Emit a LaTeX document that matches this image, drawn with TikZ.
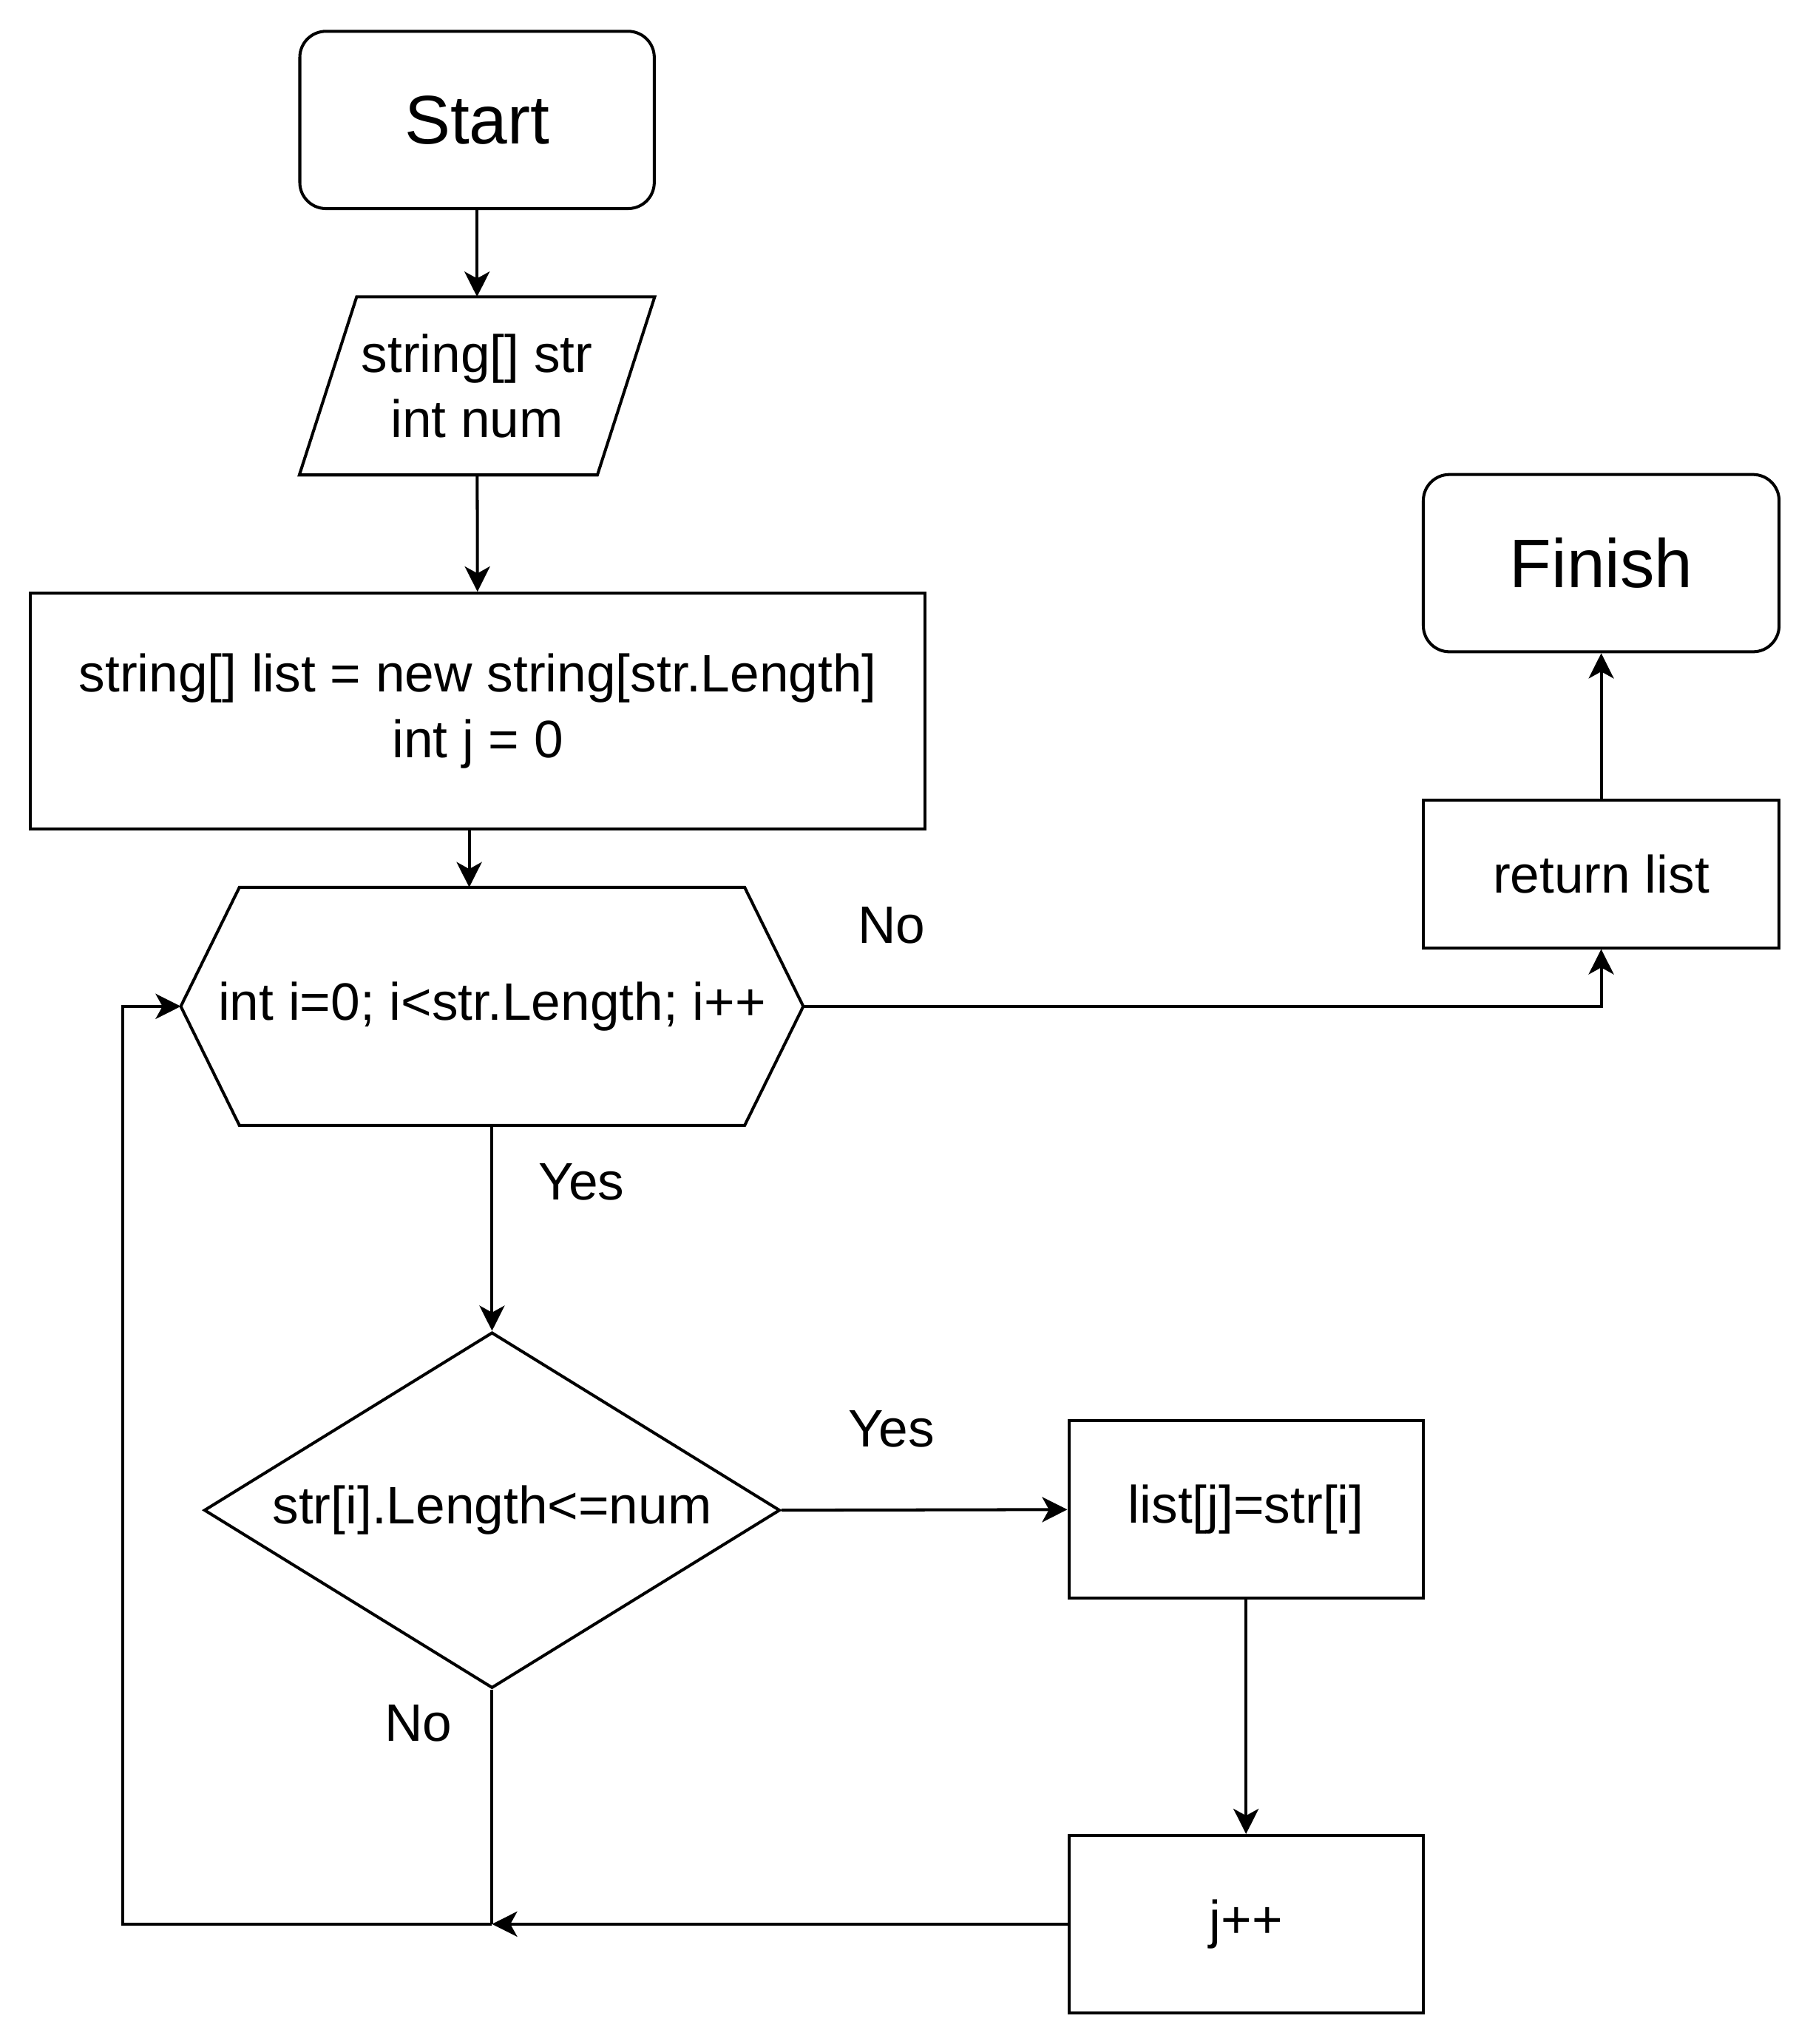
\documentclass[tikz,border=0pt]{standalone}
\usepackage{fontspec}
\setmainfont{Liberation Sans}
\usetikzlibrary{shapes.geometric,arrows.meta}
\begin{document}
\begin{tikzpicture}[x = 0.02cm, y = -0.02cm,
  every node/.style = {font = \fontsize{23}{28.5}\selectfont},
  box/.style = {draw, line width = 1.3pt, minimum width = 5.44cm, minimum height = 2.72cm, align = center, inner sep = 0},
  term/.style = {box, rounded corners = 0.4cm, font = \fontsize{30}{36}\selectfont},
  line/.style = {line width = 1.3pt},
  >={Stealth[length = 11pt, width = 11pt, inset = 3pt]}]
\useasboundingbox (0,0) rectangle (1391,1568);
\node (St) [term] at (366,92) {Start};
\node (In) [minimum width = 5.44cm, minimum height = 2.72cm, align = center, inner sep = 0] at (366,296) {string[] str\\int num};
\draw [line] ([xshift = 0.88cm]In.north west) -- (In.north east) -- ([xshift = -0.88cm]In.south east) -- (In.south west) -- cycle;
\node (Init) [box, minimum width = 13.74cm, minimum height = 3.62cm] at (366.5,545.5) {string[] list = new string[str.Length]\\int j = 0};
\node (Loop) [minimum width = 9.54cm, minimum height = 3.64cm, inner sep = 0] at (377.5,772) {int i=0; i<str.Length; i++};
\draw [line] (Loop.west) -- ([xshift = 0.9cm]Loop.north west) -- ([xshift = -0.9cm]Loop.north east) -- (Loop.east)
  -- ([xshift = -0.9cm]Loop.south east) -- ([xshift = 0.9cm]Loop.south west) -- cycle;
\node (Cond) [diamond, draw, line width = 1.3pt, aspect = 1.62, minimum width = 8.84cm, minimum height = 5.46cm, inner sep = 0] at (377.5,1158.5) {str[i].Length<=num};
\node (Set) [box] at (956,1158) {list[j]=str[i]};
\node (Inc) [box] at (956,1476) {j++};
\node (Ret) [box, minimum width = 5.46cm, minimum height = 2.26cm] at (1228.5,670.5) {return list};
\node (Fin) [term, minimum width = 5.46cm] at (1228.5,432) {Finish};
\node (No1) at (684,710) {No};
\node (Yes1) at (446,907) {Yes};
\node (Yes2) at (684,1096) {Yes};
\node (No2) at (321,1322) {No};
\coordinate (Join) at (Cond.south |- Inc.west);
\coordinate (Back) at (94,1476);
\draw [line, ->] (St) -- (In);
\draw [line, ->] (In) -- (Init);
\draw [line, ->] ([xshift = -0.13cm]Init.south) -- ([xshift = -0.13cm]Init.south |- Loop.north);
\draw [line, ->] (Loop.south) -- (Cond.north);
\draw [line, ->] (Loop.east) -| (Ret.south);
\draw [line, ->] (Ret) -- (Fin);
\draw [line, ->] (Cond.east) -- (Set.west);
\draw [line, ->] (Set) -- (Inc);
\draw [line] (Cond.south) -- (Join);
\draw [line, ->] (Inc.west) -- (Join);
\draw [line, ->] (Join) -- (Back) |- (Loop.west);
\end{tikzpicture}
\end{document}
